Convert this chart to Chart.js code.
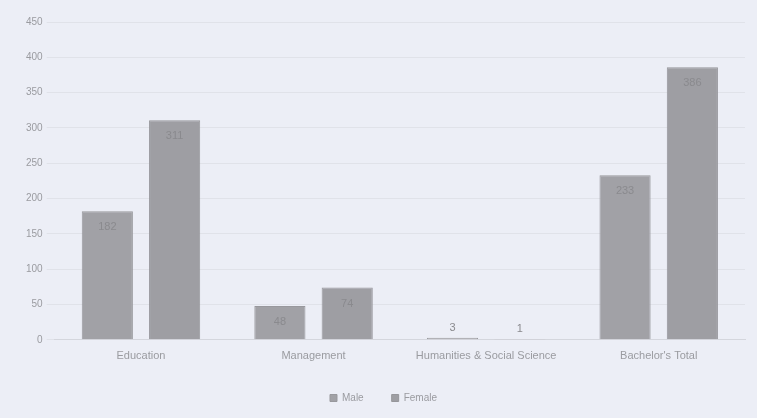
<!DOCTYPE html>
<html>
<head>
<meta charset="utf-8">
<script src="https://cdn.jsdelivr.net/npm/chart.js@4"></script>
<style>
  html, body { margin: 0; padding: 0; background: #eceef6; }
  #wrap { width: 757px; height: 418px; }
</style>
</head>
<body>
<div id="wrap"><canvas id="chart" width="757" height="418"></canvas></div>
<script>
// categories and values
const categories = ['Education', 'Management', 'Humanities & Social Science', "Bachelor's Total"];
const maleValues = [182, 48, 3, 233];
const femaleValues = [311, 74, 1, 386];
const seriesNames = ['Male', 'Female'];

// value labels on the bars
const barLabels = {
  id: 'barLabels',
  afterDatasetsDraw(chart) {
    const ctx = chart.ctx;
    ctx.save();
    ctx.font = '11px "Liberation Sans", sans-serif';
    ctx.fillStyle = '#8a8a8e';
    ctx.textAlign = 'center';
    ctx.textBaseline = 'middle';
    chart.data.datasets.forEach((ds, i) => {
      chart.getDatasetMeta(i).data.forEach((bar, j) => {
        let h = bar.base - bar.y;
        let y = h > 24 ? bar.y + 16 : bar.y - 10;
        ctx.fillText(ds.data[j], bar.x, y);
      });
    });
    ctx.restore();
  }
};

new Chart(document.getElementById('chart'), {
  type: 'bar',
  data: {
    labels: categories,
    datasets: [
      { label: seriesNames[0], data: maleValues, backgroundColor: '#a1a1a6', borderColor: '#98989d', borderWidth: 1 },
      { label: seriesNames[1], data: femaleValues, backgroundColor: '#9e9ea3', borderColor: '#96969b', borderWidth: 1 }
    ]
  },
  options: {
    responsive: false,
    animation: false,
    layout: { padding: { left: 22, right: 12, top: 22, bottom: 5 } },
    datasets: { bar: { categoryPercentage: 0.78, barPercentage: 0.76 } },
    scales: {
      x: {
        grid: { display: false },
        border: { color: '#d4d6dd' },
        ticks: { color: '#9a9ba0', padding: 2, font: { size: 11, family: '"Liberation Sans", sans-serif' } }
      },
      y: {
        min: 0, max: 450,
        ticks: { stepSize: 50, color: '#9a9ba0', padding: 4, font: { size: 10, family: '"Liberation Sans", sans-serif' } },
        grid: { color: '#e0e2e9' },
        border: { display: false }
      }
    },
    plugins: {
      legend: {
        position: 'bottom',
        labels: { color: '#9a9ba0', boxWidth: 7, boxHeight: 7, padding: 28, font: { size: 10, family: '"Liberation Sans", sans-serif' } }
      },
      tooltip: { enabled: false }
    }
  },
  plugins: [barLabels]
});
</script>
</body>
</html>
